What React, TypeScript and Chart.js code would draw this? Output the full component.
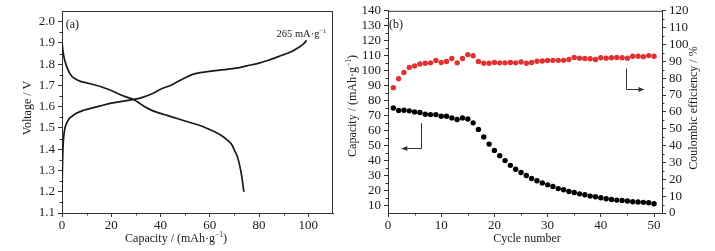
import React, { useEffect, useRef } from 'react';
import { Chart, registerables } from 'chart.js';

Chart.register(...registerables);

const FONT = "'Liberation Serif', 'Times New Roman', serif";
const INK = '#1a1a1a';
const RED = '#e03232';

// ---------- (a) charge / discharge curves ----------
const chargeCapacity = [0, 0.15, 0.3, 0.5, 0.8, 1.2, 2, 3, 4.1, 6, 8.8, 12, 15.6, 20, 25, 29.2, 33, 37, 40, 44, 47, 50, 53, 56, 59, 64, 70, 75, 80, 83.5, 87, 90, 93, 96, 98, 99.3];
const chargeVoltage = [1.2, 1.3, 1.37, 1.43, 1.47, 1.5, 1.525, 1.545, 1.555, 1.57, 1.583, 1.593, 1.604, 1.617, 1.626, 1.634, 1.645, 1.663, 1.682, 1.7, 1.718, 1.736, 1.752, 1.76, 1.765, 1.772, 1.78, 1.792, 1.805, 1.817, 1.832, 1.845, 1.858, 1.878, 1.895, 1.912];
const dischargeCapacity = [0, 0.3, 0.7, 1.3, 2, 3, 4.1, 5.5, 7.5, 10, 13, 15.6, 18, 20, 23, 26, 29.2, 32, 34, 36, 39, 42.7, 47, 51, 56.3, 59, 62, 65, 67.2, 69, 70, 71, 72, 73, 73.8];
const dischargeVoltage = [1.905, 1.87, 1.84, 1.81, 1.786, 1.76, 1.742, 1.73, 1.719, 1.712, 1.703, 1.695, 1.685, 1.676, 1.66, 1.646, 1.633, 1.612, 1.597, 1.585, 1.572, 1.559, 1.543, 1.529, 1.51, 1.497, 1.482, 1.462, 1.442, 1.42, 1.395, 1.37, 1.33, 1.27, 1.2];
const capacityTicksA = [0, 20, 40, 60, 80, 100];
const voltageTicks = [1.1, 1.2, 1.3, 1.4, 1.5, 1.6, 1.7, 1.8, 1.9, 2.0];

// ---------- (b) cycling ----------
const cycleNumbers = [1, 2, 3, 4, 5, 6, 7, 8, 9, 10, 11, 12, 13, 14, 15, 16, 17, 18, 19, 20, 21, 22, 23, 24, 25, 26, 27, 28, 29, 30, 31, 32, 33, 34, 35, 36, 37, 38, 39, 40, 41, 42, 43, 44, 45, 46, 47, 48, 49, 50];
const specificCapacity = [75.1, 73.4, 73.6, 73.2, 72.5, 72.1, 70.9, 70.7, 70.7, 69.6, 69.6, 68.5, 67.4, 68.5, 67.8, 65.2, 60.8, 55.7, 51.0, 46.8, 43.3, 40.0, 36.8, 34.2, 32.0, 30.0, 28.0, 26.5, 25.1, 23.8, 22.7, 21.3, 20.5, 19.4, 18.7, 17.8, 17.2, 16.3, 15.8, 15.2, 14.5, 14.0, 13.6, 13.4, 13.0, 12.5, 12.3, 12.1, 11.8, 11.2];
const coulombicEfficiency = [74.4, 79.7, 83.4, 86.4, 87.3, 88.5, 88.9, 89.1, 90.5, 89.3, 89.9, 91.7, 89.1, 91.7, 94.0, 93.3, 89.9, 88.9, 88.9, 89.3, 89.1, 89.1, 89.3, 89.1, 89.6, 88.9, 89.3, 90.1, 90.2, 90.5, 90.6, 90.6, 90.6, 91.1, 92.3, 91.9, 91.7, 91.5, 91.1, 92.1, 91.9, 92.1, 92.3, 92.1, 91.9, 93.0, 93.0, 92.8, 93.4, 93.0];
const cycleTicks = [0, 10, 20, 30, 40, 50];
const capacityTicksB = [10, 20, 30, 40, 50, 60, 70, 80, 90, 100, 110, 120, 130, 140];
const efficiencyTicks = [0, 10, 20, 30, 40, 50, 60, 70, 80, 90, 100, 110, 120];

type Part = { t: string; sup?: boolean };

function drawRich(ctx: CanvasRenderingContext2D, parts: Part[], x: number, y: number, size: number, align: 'left' | 'center' | 'right') {
  const widths = parts.map((p) => {
    ctx.font = `${p.sup ? size * 0.62 : size}px ${FONT}`;
    return ctx.measureText(p.t).width;
  });
  const total = widths.reduce((a, b) => a + b, 0);
  let cx = align === 'center' ? x - total / 2 : align === 'right' ? x - total : x;
  ctx.textAlign = 'left';
  ctx.textBaseline = 'alphabetic';
  parts.forEach((p, i) => {
    ctx.font = `${p.sup ? size * 0.62 : size}px ${FONT}`;
    ctx.fillText(p.t, cx, p.sup ? y - size * 0.42 : y);
    cx += widths[i];
  });
}

function drawRotated(ctx: CanvasRenderingContext2D, parts: Part[], x: number, y: number, size: number) {
  ctx.save();
  ctx.translate(x, y);
  ctx.rotate(-Math.PI / 2);
  drawRich(ctx, parts, 0, size * 0.33, size, 'center');
  ctx.restore();
}

function drawMinor(ctx: CanvasRenderingContext2D, scale: any, majors: number[], side: 'bottom' | 'left' | 'right', len: number) {
  const mids: number[] = [];
  for (let i = 0; i < majors.length - 1; i++) mids.push((majors[i] + majors[i + 1]) / 2);
  const step = majors[1] - majors[0];
  const lo = majors[0] - step / 2;
  const hi = majors[majors.length - 1] + step / 2;
  if (lo > scale.min + 1e-9) mids.push(lo);
  if (hi < scale.max - 1e-9) mids.push(hi);
  ctx.beginPath();
  mids.forEach((v) => {
    const p = Math.round(scale.getPixelForValue(v)) + 0.5;
    if (side === 'bottom') {
      const y0 = scale.top;
      ctx.moveTo(p, y0);
      ctx.lineTo(p, y0 + len);
    } else if (side === 'left') {
      const x0 = scale.right;
      ctx.moveTo(x0, p);
      ctx.lineTo(x0 - len, p);
    } else {
      const x0 = scale.left;
      ctx.moveTo(x0, p);
      ctx.lineTo(x0 + len, p);
    }
  });
  ctx.stroke();
}

function arrowHead(ctx: CanvasRenderingContext2D, x: number, y: number, dir: 1 | -1) {
  ctx.beginPath();
  ctx.moveTo(x, y);
  ctx.lineTo(x - dir * 6, y - 2.5);
  ctx.lineTo(x - dir * 6, y + 2.5);
  ctx.closePath();
  ctx.fill();
}

function fixedTicks(values: number[]) {
  return (scale: any) => {
    scale.ticks = values.map((v) => ({ value: v }));
  };
}

function axisBase(tickValues: number[], min: number, max: number, fmt: (v: number) => string) {
  return {
    type: 'linear' as const,
    min,
    max,
    afterBuildTicks: fixedTicks(tickValues),
    grid: { display: true, drawOnChartArea: false, drawTicks: true, tickLength: 4, color: '#333', lineWidth: 1 },
    border: { display: true, color: '#333', width: 1 },
    ticks: { color: INK, font: { family: FONT, size: 13 }, maxRotation: 0, autoSkip: false, callback: (v: any) => fmt(Number(v)) },
  };
}

const decorA = {
  id: 'decorA',
  afterDraw(chart: any) {
    const ctx: CanvasRenderingContext2D = chart.ctx;
    const { left, right, top, bottom } = chart.chartArea;
    const sx = chart.scales.x;
    const sy = chart.scales.y;
    ctx.save();
    ctx.strokeStyle = '#333';
    ctx.lineWidth = 1;
    ctx.beginPath();
    ctx.moveTo(left, top + 0.5);
    ctx.lineTo(right, top + 0.5);
    ctx.moveTo(right - 0.5, top);
    ctx.lineTo(right - 0.5, bottom);
    ctx.stroke();
    drawMinor(ctx, sx, capacityTicksA, 'bottom', 2.5);
    drawMinor(ctx, sy, voltageTicks, 'left', 2.5);
    ctx.fillStyle = INK;
    drawRich(ctx, [{ t: '(a)' }], sx.getPixelForValue(4.2), sy.getPixelForValue(1.99) + 4, 12, 'center');
    drawRich(ctx, [{ t: '265 mA·g' }, { t: '−1', sup: true }], sx.getPixelForValue(107.3), sy.getPixelForValue(1.944) + 3.5, 10.5, 'right');
    drawRotated(ctx, [{ t: 'Voltage / V' }], 27, 108, 12);
    drawRich(ctx, [{ t: 'Capacity / (mAh·g' }, { t: '−1', sup: true }, { t: ')' }], 176, 242, 12, 'center');
    ctx.restore();
  },
};

const decorB = {
  id: 'decorB',
  afterDraw(chart: any) {
    const ctx: CanvasRenderingContext2D = chart.ctx;
    const { left, right, top } = chart.chartArea;
    const sx = chart.scales.x;
    const sy = chart.scales.y;
    const sy2 = chart.scales.y2;
    ctx.save();
    ctx.strokeStyle = '#333';
    ctx.fillStyle = '#333';
    ctx.lineWidth = 1;
    ctx.beginPath();
    ctx.moveTo(left, top + 0.5);
    ctx.lineTo(right, top + 0.5);
    ctx.stroke();
    drawMinor(ctx, sx, cycleTicks, 'bottom', 2.5);
    drawMinor(ctx, sy, capacityTicksB, 'left', 2.5);
    drawMinor(ctx, sy2, efficiencyTicks, 'right', 2.5);
    // arrow to the right (efficiency axis)
    const ax = Math.round(sx.getPixelForValue(44.8)) + 0.5;
    const ay0 = sy2.getPixelForValue(85.8);
    const ay1 = Math.round(sy2.getPixelForValue(73.4)) + 0.5;
    const ax2 = sx.getPixelForValue(48.2);
    ctx.beginPath();
    ctx.moveTo(ax, ay0);
    ctx.lineTo(ax, ay1);
    ctx.lineTo(ax2 - 4, ay1);
    ctx.stroke();
    arrowHead(ctx, ax2, ay1, 1);
    // arrow to the left (capacity axis)
    const bx = Math.round(sx.getPixelForValue(6.2)) + 0.5;
    const by0 = sy.getPixelForValue(65.0);
    const by1 = Math.round(sy.getPixelForValue(48.4)) + 0.5;
    const bx2 = sx.getPixelForValue(2.5);
    ctx.beginPath();
    ctx.moveTo(bx, by0);
    ctx.lineTo(bx, by1);
    ctx.lineTo(bx2 + 4, by1);
    ctx.stroke();
    arrowHead(ctx, bx2, by1, -1);
    ctx.fillStyle = INK;
    drawRich(ctx, [{ t: '(b)' }], sx.getPixelForValue(1.5), sy.getPixelForValue(131.4) + 4, 12, 'center');
    drawRotated(ctx, [{ t: 'Capacity / (mAh·g' }, { t: '−1', sup: true }, { t: ')' }], 12, 106, 12);
    drawRotated(ctx, [{ t: 'Coulombic efficiency / %' }], 353, 108, 12);
    drawRich(ctx, [{ t: 'Cycle number' }], 187, 242, 12, 'center');
    ctx.restore();
  },
};

function configA(): any {
  const x = { ...axisBase(capacityTicksA, 0, 110, (v) => String(v)), afterFit: (s: any) => { s.height = 38; } };
  x.ticks = { ...x.ticks, padding: 1 } as any;
  const y = { ...axisBase(voltageTicks, 1.1, 2.05, (v) => v.toFixed(1)), afterFit: (s: any) => { s.width = 62; } };
  y.ticks = { ...y.ticks, padding: 3 } as any;
  return {
    type: 'scatter',
    data: {
      datasets: [
        {
          data: chargeCapacity.map((c, i) => ({ x: c, y: chargeVoltage[i] })),
          showLine: true,
          borderColor: INK,
          borderWidth: 1.7,
          pointRadius: 0,
          cubicInterpolationMode: 'monotone',
        },
        {
          data: dischargeCapacity.map((c, i) => ({ x: c, y: dischargeVoltage[i] })),
          showLine: true,
          borderColor: INK,
          borderWidth: 1.7,
          pointRadius: 0,
          cubicInterpolationMode: 'monotone',
        },
      ],
    },
    options: {
      animation: false,
      responsive: false,
      maintainAspectRatio: false,
      layout: { padding: { top: 11, right: 7, left: 0, bottom: 0 } },
      plugins: { legend: { display: false }, tooltip: { enabled: false } },
      scales: { x, y },
    },
    plugins: [decorA],
  };
}

function configB(): any {
  const x = { ...axisBase(cycleTicks, 0, 51.5, (v) => String(v)), afterFit: (s: any) => { s.height = 38; } };
  x.ticks = { ...x.ticks, padding: 1 } as any;
  const y = { ...axisBase(capacityTicksB, 5, 140, (v) => String(v)), position: 'left', afterFit: (s: any) => { s.width = 48; } };
  y.ticks = { ...y.ticks, padding: 3 } as any;
  const y2 = { ...axisBase(efficiencyTicks, 0, 120, (v) => String(v)), position: 'right', afterFit: (s: any) => { s.width = 53; } };
  y2.ticks = { ...y2.ticks, padding: 3 } as any;
  return {
    type: 'scatter',
    data: {
      datasets: [
        {
          data: cycleNumbers.map((c, i) => ({ x: c, y: specificCapacity[i] })),
          yAxisID: 'y',
          pointRadius: 2.7,
          backgroundColor: '#000',
          borderWidth: 0,
        },
        {
          data: cycleNumbers.map((c, i) => ({ x: c, y: coulombicEfficiency[i] })),
          yAxisID: 'y2',
          pointRadius: 2.7,
          backgroundColor: RED,
          borderWidth: 0,
        },
      ],
    },
    options: {
      animation: false,
      responsive: false,
      maintainAspectRatio: false,
      layout: { padding: { top: 10, right: 0, left: 0, bottom: 0 } },
      plugins: { legend: { display: false }, tooltip: { enabled: false } },
      scales: { x, y, y2 },
    },
    plugins: [decorB],
  };
}

export default function App() {
  const refA = useRef<HTMLCanvasElement>(null);
  const refB = useRef<HTMLCanvasElement>(null);
  useEffect(() => {
    const a = new Chart(refA.current as HTMLCanvasElement, configA());
    const b = new Chart(refB.current as HTMLCanvasElement, configB());
    return () => {
      a.destroy();
      b.destroy();
    };
  }, []);
  return (
    <div style={{ position: 'absolute', left: 0, top: 0, width: 715, height: 251, background: '#fff', overflow: 'hidden' }}>
      <canvas ref={refA} width={340} height={251} style={{ position: 'absolute', left: 0, top: 0, width: 340, height: 251 }} />
      <canvas ref={refB} width={375} height={251} style={{ position: 'absolute', left: 340, top: 0, width: 375, height: 251 }} />
    </div>
  );
}
